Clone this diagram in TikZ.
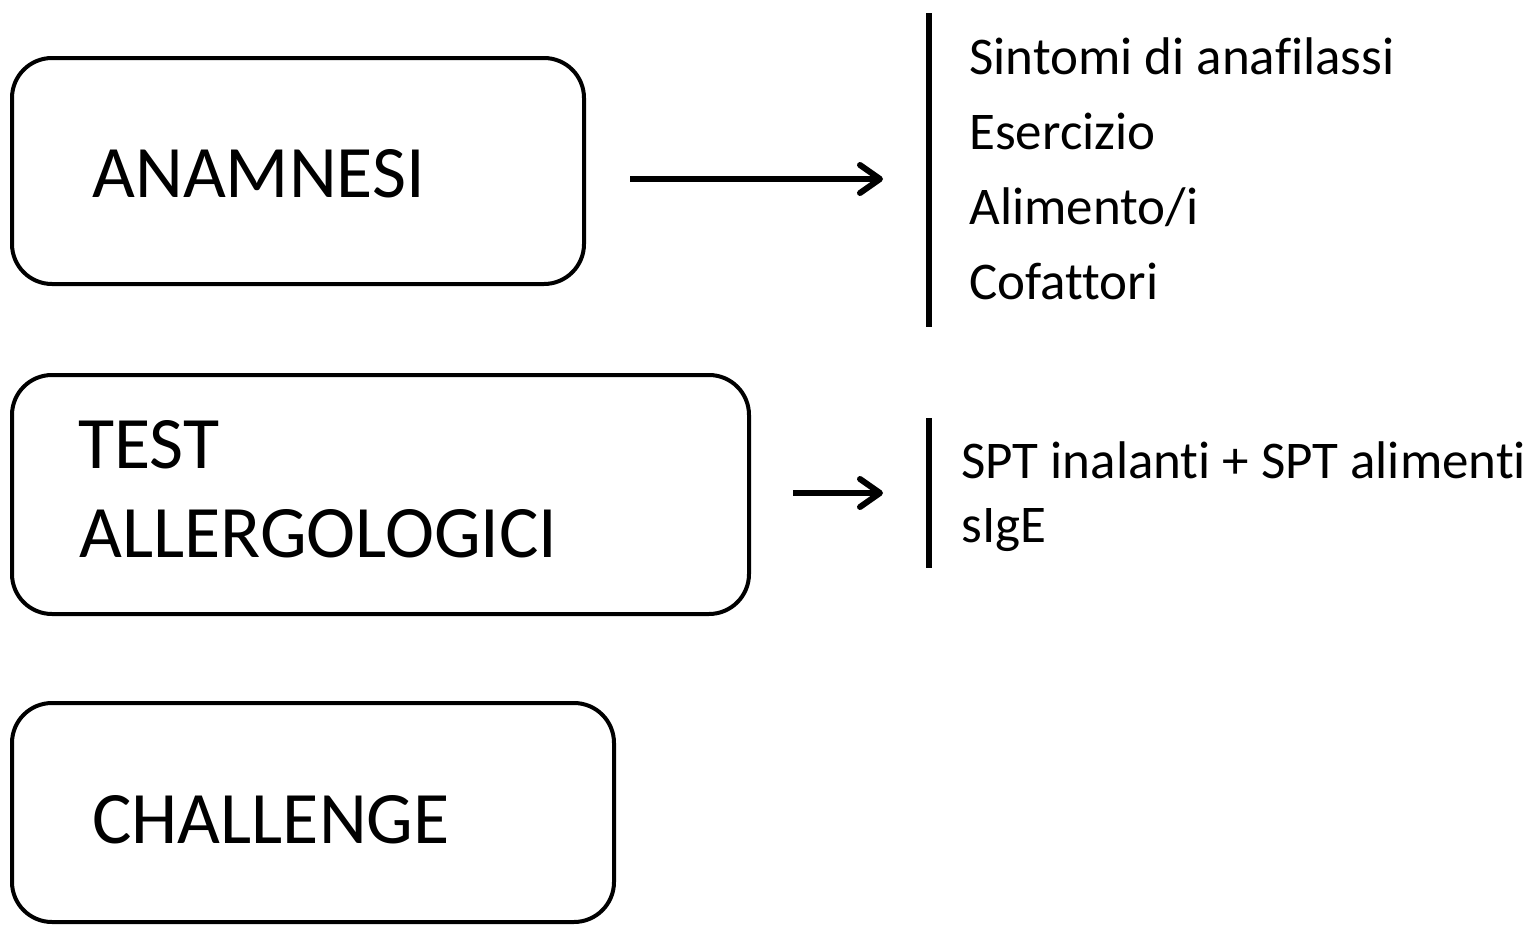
\documentclass[tikz,border=0pt]{standalone}
\usepackage{fontspec}
\setmainfont{Carlito}[Ligatures=NoCommon]
\usetikzlibrary{arrows.meta}
\tikzset{
  stagebox/.style={draw, line width=2pt, rounded corners=20pt, inner sep=0pt},
  bigtxt/.style={anchor=base west, inner sep=0pt, font=\fontsize{37}{44}\selectfont},
  listtxt/.style={anchor=base west, inner sep=0pt, font=\fontsize{26.5}{32}\selectfont},
  arr/.style={line width=3pt, -{Straight Barb[length=10pt,width=14pt,round]}},
  listbar/.style={line width=3pt}
}
\begin{document}
\begin{tikzpicture}[x=0.5pt,y=-0.5pt]
    \useasboundingbox (0,0) rectangle (1538,926);
    % stages
    \node[stagebox, minimum width=286pt, minimum height=113pt] (anam) at (298,171) {};
    \node[stagebox, minimum width=368.5pt, minimum height=119.5pt] (test) at (380.5,494.5) {};
    \node[stagebox, minimum width=301pt, minimum height=109.5pt] (chal) at (313,812.5) {};
    \node[bigtxt] (anamtxt) at (92,197) {ANAMNESI};
    \node[bigtxt] (testtxt) at (78,468) {TEST};
    \node[bigtxt] (allertxt) at (79,557) {ALLERGOLOGICI};
    \node[bigtxt] (chaltxt) at (92,843) {CHALLENGE};
    % arrows
    \coordinate (a1s) at (630,179);
    \coordinate (a1e) at (883,179);
    \coordinate (a2s) at (793,493);
    \coordinate (a2e) at (883,493);
    \draw[arr] (a1s) -- (a1e);
    \draw[arr] (a2s) -- (a2e);
    % lists
    \coordinate (b1t) at (929,13);
    \coordinate (b1b) at (929,327);
    \coordinate (b2t) at (929,418);
    \coordinate (b2b) at (929,568);
    \draw[listbar] (b1t) -- (b1b);
    \draw[listbar] (b2t) -- (b2b);
    \node[listtxt] (sint) at (969,74) {Sintomi di anafilassi};
    \node[listtxt] (eser) at (969,149) {Esercizio};
    \node[listtxt] (alim) at (969,224) {Alimento/i};
    \node[listtxt] (cofa) at (969,299) {Cofattori};
    \node[listtxt] (spt) at (961,478) {SPT inalanti + SPT alimenti};
    \node[listtxt] (sige) at (961,542) {sIgE};
\end{tikzpicture}
\end{document}
